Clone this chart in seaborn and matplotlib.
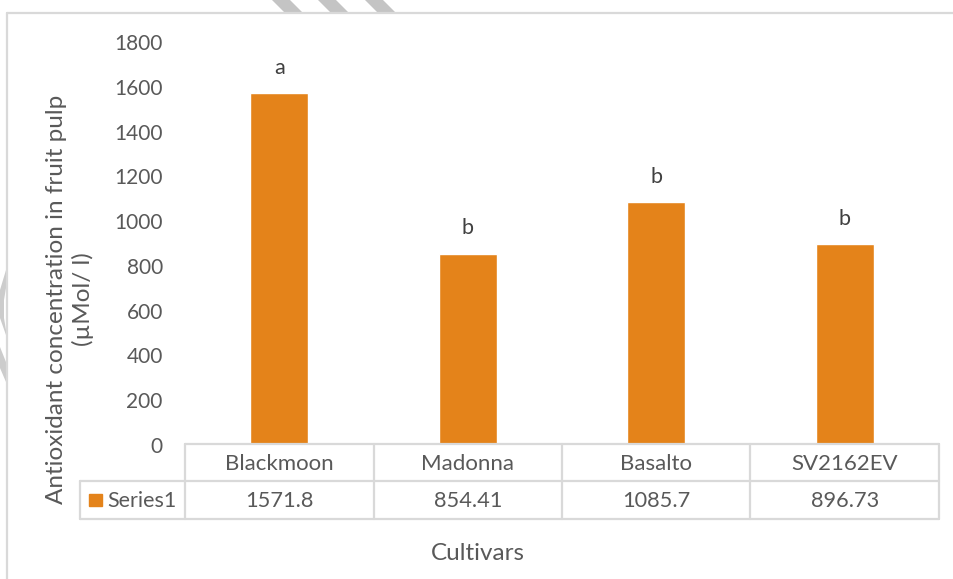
import matplotlib
matplotlib.use("Agg")
import matplotlib.pyplot as plt
from matplotlib.patches import Polygon, Rectangle
from matplotlib.lines import Line2D
import seaborn as sns

# Data
cultivars = ["Blackmoon", "Madonna", "Basalto", "SV2162EV"]
antioxidant = [1571.8, 854.41, 1085.7, 896.73]
value_labels = ["1571.8", "854.41", "1085.7", "896.73"]
letters = ["a", "b", "b", "b"]
series_name = "Series1"
y_ticks = [0, 200, 400, 600, 800, 1000, 1200, 1400, 1600, 1800]

BAR = "#E4831A"
TXT = "#595959"
GRID = "#D9D9D9"

sns.set_theme(style="white")
plt.rcParams["font.family"] = ["Lato", "DejaVu Sans"]

W, H = 954, 579
fig = plt.figure(figsize=(W / 100, H / 100), dpi=100)
fig.patch.set_facecolor("white")


def fx(px):
    return px / W


def fy(py):
    return 1 - py / H


# plot area in pixel coordinates
L, R, B, T = 185, 939, 445, 42
ax = fig.add_axes([fx(L), fy(B), fx(R) - fx(L), fy(T) - fy(B)])
sns.barplot(x=cultivars, y=antioxidant, color=BAR, saturation=1, width=0.31, ax=ax)
ax.set_ylim(0, 1800)
ax.set_xlim(-0.5, len(cultivars) - 0.5)
ax.set_yticks(y_ticks)
ax.set_yticklabels([str(t) for t in y_ticks], color=TXT, fontsize=15)
ax.tick_params(axis="y", length=0, pad=16)
ax.set_xticks([])
ax.set_xlabel("")
ax.set_ylabel("")
for s in ax.spines.values():
    s.set_visible(False)
ax.grid(False)
ax.patch.set_alpha(0)

# significance letters above bars
for i, (v, l) in enumerate(zip(antioxidant, letters)):
    ax.annotate(l, (i, v), xytext=(0, 11), textcoords="offset points",
                ha="center", va="bottom", color="#404040", fontsize=15.5)

# data table under the axis
cols = [L + (R - L) * k / len(cultivars) for k in range(len(cultivars) + 1)]
r0, r1, r2 = 444, 481, 519
leg_left = 80


def hline(x0, x1, y):
    fig.add_artist(Line2D([fx(x0), fx(x1)], [fy(y), fy(y)], color=GRID, lw=1.6))


def vline(x, y0, y1):
    fig.add_artist(Line2D([fx(x), fx(x)], [fy(y0), fy(y1)], color=GRID, lw=1.6))


hline(L, R, r0)
hline(leg_left, R, r1)
hline(leg_left, R, r2)
for c in cols:
    vline(c, r0, r2)
vline(leg_left, r1, r2)

for i, (name, val) in enumerate(zip(cultivars, value_labels)):
    cx = (cols[i] + cols[i + 1]) / 2
    fig.text(fx(cx), fy((r0 + r1) / 2 + 1), name, ha="center", va="center",
             color=TXT, fontsize=16)
    fig.text(fx(cx), fy((r1 + r2) / 2 + 1), val, ha="center", va="center",
             color=TXT, fontsize=15.7)

fig.add_artist(Rectangle((fx(89), fy(506)), fx(13), fy(494) - fy(506),
                         color=BAR, transform=fig.transFigure))
fig.text(fx(107), fy((r1 + r2) / 2 + 1), series_name, ha="left", va="center",
         color=TXT, fontsize=15.5)

# axis titles
fig.text(fx(70), fy(299), "Antioxidant concentration in fruit pulp\n(µMol/ l)",
         rotation=90, ha="center", va="center", color=TXT, fontsize=17.5,
         linespacing=1.25, multialignment="center")
fig.text(fx(478), fy(553), "Cultivars", ha="center", va="center",
         color=TXT, fontsize=17.5)

# outer chart frame
fig.add_artist(Line2D([fx(7), fx(W)], [fy(13), fy(13)], color=GRID, lw=1.6))
fig.add_artist(Line2D([fx(7), fx(7)], [fy(13), fy(H)], color=GRID, lw=1.6))

# faint diagonal stripes along the top edge
for x0 in (272, 318, 365):
    fig.add_artist(Polygon([(fx(x0), fy(0)), (fx(x0 + 18), fy(0)),
                            (fx(x0 + 31), fy(13)), (fx(x0 + 13), fy(13))],
                           closed=True, color="#C4C4C4", lw=0,
                           transform=fig.transFigure))

# faint shapes along the left edge
for pts in ([(0, 290), (6, 270), (6, 288), (4, 300), (4, 318), (6, 330), (6, 335), (0, 318)],
            [(0, 347), (6, 362), (6, 382), (0, 368)]):
    fig.add_artist(Polygon([(fx(x), fy(y)) for x, y in pts], closed=True,
                           color="#CCCCCC", lw=0, transform=fig.transFigure))

fig.savefig("out.png", dpi=100, facecolor="white")
